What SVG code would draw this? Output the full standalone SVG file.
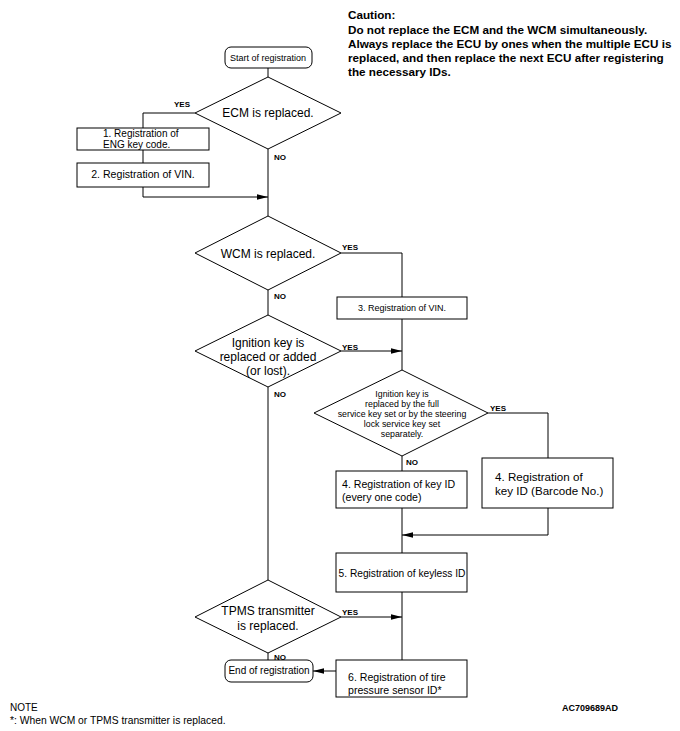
<svg xmlns="http://www.w3.org/2000/svg" width="680" height="731" viewBox="0 0 680 731">
<defs>
<marker id="arr" markerWidth="12" markerHeight="8" refX="11" refY="4" orient="auto" markerUnits="userSpaceOnUse">
<path d="M0,1.2 L11,4 L0,6.8 Z" fill="#000"/>
</marker>
</defs>
<style>
text{font-family:"Liberation Sans",Arial,sans-serif;fill:#000}
.s{fill:#fff;stroke:#000;stroke-width:1}
.c{fill:none;stroke:#000;stroke-width:1}
.m{text-anchor:middle}
.t12{font-size:12px}
.t11{font-size:10.6px}
.t10{font-size:10px}
.t9{font-size:9px}
.t8{font-size:8.8px}
.lb{font-size:8px;font-weight:bold}
.b{font-weight:bold}
</style>
<rect width="680" height="731" fill="#fff"/>
<g id="caution" class="b" font-size="11.7">
<text x="348" y="19">Caution:</text>
<text x="348" y="34">Do not replace the ECM and the WCM simultaneously.</text>
<text x="348" y="48">Always replace the ECU by ones when the multiple ECU is</text>
<text x="348" y="62">replaced, and then replace the next ECU after registering</text>
<text x="348" y="76">the necessary IDs.</text>
</g>
<g id="connectors">
<path class="c" d="M268,68 V77"/>
<path class="c" d="M195,113 H143 V128"/>
<path class="c" d="M143,150 V163"/>
<path class="c" d="M143,187 V197 H268" marker-end="url(#arr)"/>
<path class="c" d="M268,149 V216"/>
<path class="c" d="M268,290 V315"/>
<path class="c" d="M341,253 H402 V297"/>
<path class="c" d="M402,319 V370"/>
<path class="c" d="M341,351 H402" marker-end="url(#arr)"/>
<path class="c" d="M488,413 H548 V458"/>
<path class="c" d="M402,456 V471"/>
<path class="c" d="M548,508 V535 H402" marker-end="url(#arr)"/>
<path class="c" d="M402,508 V553"/>
<path class="c" d="M268,387 V580"/>
<path class="c" d="M341,617 H402" marker-end="url(#arr)"/>
<path class="c" d="M402,592 V660"/>
<path class="c" d="M268,653 V660"/>
<path class="c" d="M336,671 H313" marker-end="url(#arr)"/>
<text class="lb" x="174" y="107">YES</text>
<text class="lb" x="274" y="160">NO</text>
<text class="lb" x="342" y="250">YES</text>
<text class="lb" x="274" y="299">NO</text>
<text class="lb" x="342" y="350">YES</text>
<text class="lb" x="274" y="397">NO</text>
<text class="lb" x="490" y="411">YES</text>
<text class="lb" x="406" y="465">NO</text>
<text class="lb" x="342" y="615">YES</text>
<text class="lb" x="274" y="660">NO</text>
</g>
<g id="start">
<rect class="s" x="225" y="47" width="87" height="21" rx="6"/>
<text class="t9 m" x="268" y="61">Start of registration</text>
</g>
<g id="ecm">
<polygon class="s" points="268,77 341,113 268,149 195,113"/>
<text class="t12 m" x="268" y="117">ECM is replaced.</text>
</g>
<g id="box1">
<rect class="s" x="77" y="128" width="132" height="22"/>
<text class="t10" x="103" y="137">1. Registration of</text>
<text class="t10" x="103" y="148">ENG key code.</text>
</g>
<g id="box2">
<rect class="s" x="77" y="163" width="132" height="24"/>
<text class="t11 m" x="143" y="178" font-size="11">2. Registration of VIN.</text>
</g>
<g id="wcm">
<polygon class="s" points="268,216 341,253 268,290 195,253"/>
<text class="t12 m" x="268" y="258">WCM is replaced.</text>
</g>
<g id="box3">
<rect class="s" x="337" y="297" width="130" height="22"/>
<text class="t9 m" x="402" y="311">3. Registration of VIN.</text>
</g>
<g id="ignition">
<polygon class="s" points="268,315 341,351 268,387 195,351"/>
<text class="t12 m" x="268" y="347">Ignition key is</text>
<text class="t12 m" x="268" y="361">replaced or added</text>
<text class="t12 m" x="268" y="375">(or lost).</text>
</g>
<g id="servicekey">
<polygon class="s" points="402,370 488,413 402,456 314,413"/>
<text class="t8 m" x="402" y="397">Ignition key is</text>
<text class="t8 m" x="402" y="407">replaced by the full</text>
<text class="t8 m" x="402" y="417">service key set or by the steering</text>
<text class="t8 m" x="402" y="427">lock service key set</text>
<text class="t8 m" x="402" y="437">separately.</text>
</g>
<g id="box4a">
<rect class="s" x="336" y="471" width="131" height="37"/>
<text class="t11" x="342" y="488">4. Registration of key ID</text>
<text class="t11" x="342" y="501">(every one code)</text>
</g>
<g id="box4b">
<rect class="s" x="482" y="458" width="131" height="50"/>
<text x="495" y="481" font-size="11.6">4. Registration of</text>
<text x="495" y="495" font-size="11.6">key ID (Barcode No.)</text>
</g>
<g id="box5">
<rect class="s" x="336" y="553" width="131" height="39"/>
<text class="m" x="402" y="577" font-size="10.2">5. Registration of keyless ID</text>
</g>
<g id="tpms">
<polygon class="s" points="268,580 341,617 268,653 195,617"/>
<text class="t12 m" x="268" y="615">TPMS transmitter</text>
<text class="t12 m" x="268" y="630">is replaced.</text>
</g>
<g id="box6">
<rect class="s" x="336" y="660" width="131" height="37"/>
<text class="t11" x="348" y="681">6. Registration of tire</text>
<text class="t11" x="348" y="694">pressure sensor ID*</text>
</g>
<g id="end">
<rect class="s" x="225" y="660" width="88" height="22" rx="6"/>
<text class="t10 m" x="269" y="674">End of registration</text>
</g>
<g id="notes">
<text x="10" y="711" font-size="10">NOTE</text>
<text x="10" y="724" font-size="10.3">*: When WCM or TPMS transmitter is replaced.</text>
<text x="562" y="711" font-size="9" font-weight="bold">AC709689AD</text>
</g>
</svg>
